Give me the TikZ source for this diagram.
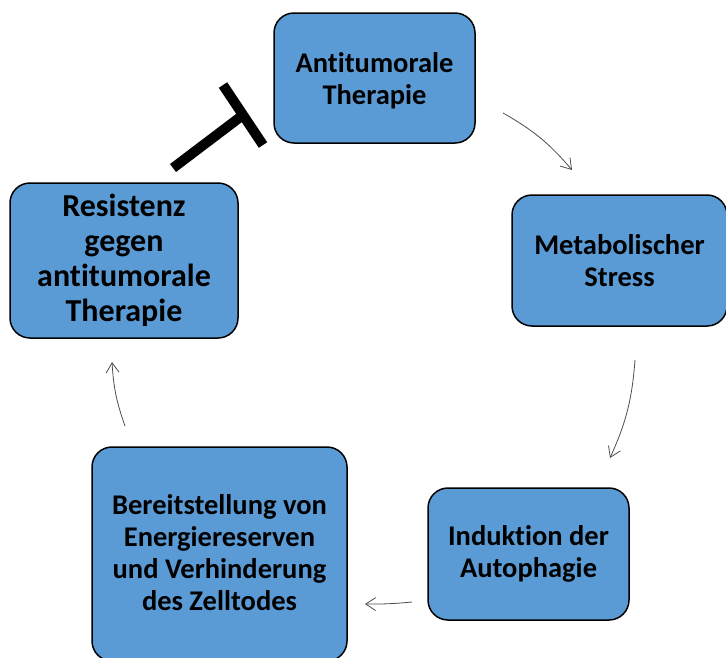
\documentclass[tikz,border=0pt]{standalone}
\usepackage{fontspec}
\setmainfont[Ligatures={NoCommon}]{Carlito}
\usetikzlibrary{arrows.meta}
\definecolor{boxblue}{HTML}{5B9BD5}
\tikzset{
  box/.style={draw=black, line width=1.5pt, fill=boxblue, rounded corners=20pt, align=center, font=\bfseries\fontsize{28.5}{32}\selectfont, inner sep=2pt},
  bigbox/.style={box, font=\bfseries\fontsize{32}{35}\selectfont},
  arr/.style={draw=black!70, line width=0.8pt, -{Straight Barb[length=10pt,width=13pt,line width=0.8pt]}},
  inhib/.style={draw=black, line width=10pt}
}
\begin{document}
\begin{tikzpicture}[x=1pt,y=1pt]
\useasboundingbox (0,0) rectangle (726,-657);
\node[box, minimum width=201pt, minimum height=130pt, text depth=-3pt] (A) at (374.5,-78) {Antitumorale\\Therapie};
\node[box, minimum width=215pt, minimum height=131pt] (M) at (619.5,-260.5) {Metabolischer\\Stress};
\node[bigbox, minimum width=228pt, minimum height=155pt] (R) at (124,-260.5) {Resistenz\\gegen\\antitumorale\\Therapie};
\node[box, minimum width=201pt, minimum height=132pt] (I) at (528.5,-554) {Induktion der\\Autophagie};
\node[box, minimum width=255pt, minimum height=214pt] (B) at (219.5,-554) {};
\node[font=\bfseries\fontsize{28.5}{32}\selectfont, align=center] (Bt) at (219.5,-553) {Bereitstellung von\\Energiereserven\\und Verhinderung\\des Zelltodes};
\coordinate (a1) at (503,-113);
\coordinate (a2) at (572,-170);
\coordinate (m1) at (635,-360);
\coordinate (m2) at (610,-458);
\coordinate (i1) at (412,-602);
\coordinate (i2) at (365,-604);
\coordinate (b1) at (125,-426);
\coordinate (b2) at (112,-362);
\draw[arr] (a1) to[bend left=10] (a2);
\draw[arr] (m1) to[bend left=10] (m2);
\draw[arr] (i1) to[bend left=3] (i2);
\draw[arr] (b1) to[bend left=8] (b2);
\coordinate (t0) at (173,-168);
\coordinate (tm) at (243,-115);
\coordinate (tb1) at (223,-85);
\coordinate (tb2) at (263,-145);
\draw[inhib] (t0) -- (tm);
\draw[inhib] (tb1) -- (tb2);
\end{tikzpicture}
\end{document}
